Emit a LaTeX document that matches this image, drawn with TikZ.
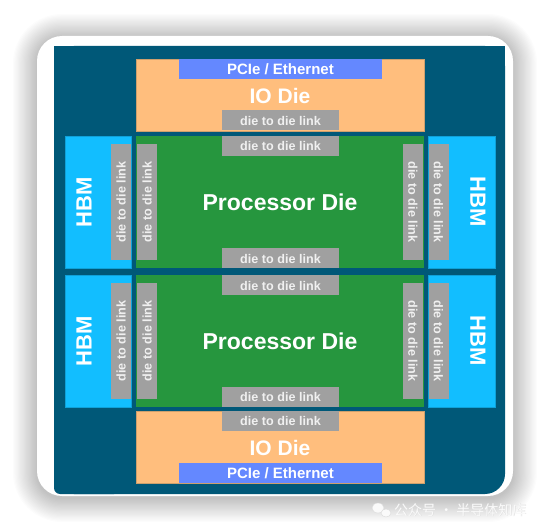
\documentclass[tikz,border=0pt]{standalone}
\usepackage{fontspec}
\setmainfont{Liberation Sans}
\newfontfamily\cjk{Noto Sans CJK SC}
\definecolor{panelblue}{RGB}{0,88,120}
\definecolor{iocol}{RGB}{255,190,125}
\definecolor{iodraw}{RGB}{205,160,110}
\definecolor{pciecol}{RGB}{100,136,255}
\definecolor{proccol}{RGB}{38,150,62}
\definecolor{hbmcol}{RGB}{18,190,255}
\definecolor{linkcol}{RGB}{160,160,160}
\definecolor{linktext}{RGB}{240,240,240}
\definecolor{wmark}{RGB}{250,250,250}
\definecolor{wmarkedge}{RGB}{218,218,218}
\tikzset{
  box/.style={inner sep=0pt, outer sep=0pt, anchor=north west},
  iobox/.style={box, fill=iocol, draw=iodraw, line width=0.6pt, minimum width=288pt, minimum height=72pt,
    text=white, font=\bfseries\fontsize{21}{21}\selectfont},
  pciebox/.style={box, fill=pciecol, minimum width=203pt, minimum height=20pt,
    text=white, font=\bfseries\fontsize{15}{15}\selectfont},
  procbox/.style={box, fill=proccol, minimum width=288pt, minimum height=132pt,
    text=white, font=\bfseries\fontsize{23}{23}\selectfont},
  hbmbox/.style={box, fill=hbmcol, draw=hbmcol!85!black, line width=0.4pt, minimum width=66pt, minimum height=132pt},
  hbmtext/.style={inner sep=0pt, text=white, font=\bfseries\fontsize{22}{22}\selectfont},
  linkbox/.style={inner sep=0pt, outer sep=0pt, fill=linkcol, minimum height=20pt,
    text=linktext, font=\bfseries\fontsize{12.6}{12.6}\selectfont},
  hlink/.style={linkbox, anchor=north west, minimum width=117pt},
  vlink/.style={linkbox, minimum width=116pt},
  shadowlayer/.style={fill=black, fill opacity=0.011},
  wmtext/.style={anchor=west, inner sep=0pt, text=wmark, font=\cjk\fontsize{14}{14}\selectfont},
}
\begin{document}
\begin{tikzpicture}[x=1pt,y=-1pt]
\useasboundingbox (0,0) rectangle (550,532);
\fill[white] (0,0) rectangle (550,532);
% soft shadow built from stacked translucent layers
\foreach \i in {1,...,20} {
  \pgfmathsetmacro{\d}{1.2*\i}
  \fill[shadowlayer, rounded corners={25pt+\d pt}] (37-\d,36-\d+2) rectangle (513+\d,496+\d+2);
}
% card
\fill[white, rounded corners=25pt] (37,36) rectangle (513,496);
% dark panel
\fill[panelblue, rounded corners=20pt] (54,46) rectangle (505,494);
\fill[panelblue] (54,46) rectangle (505,120);
\fill[panelblue, rounded corners=6pt] (54,300) rectangle (120,494);

% top IO die
\node[iobox] (ioT) at (136,59) {};
\node[text=white, font=\bfseries\fontsize{21}{21}\selectfont] (ioTt) at (280,96) {IO Die};
\node[pciebox] (pcieT) at (179,59) {PCIe / Ethernet};
\node[hlink] (lnkIOT) at (222,110.5) {die to die link};

% top processor
\node[procbox] (procT) at (136,136) {Processor Die};
\node[hlink] (lnkPT1) at (222,136) {die to die link};
\node[hlink] (lnkPT2) at (222,248.5) {die to die link};

% bottom processor
\node[procbox] (procB) at (136,275.5) {Processor Die};
\node[hlink] (lnkPB1) at (222,275.5) {die to die link};
\node[hlink] (lnkPB2) at (222,387) {die to die link};

% bottom IO die
\node[iobox] (ioB) at (136,411) {};
\node[text=white, font=\bfseries\fontsize{21}{21}\selectfont] (ioBt) at (280,448) {IO Die};
\node[hlink] (lnkIOB) at (222,411) {die to die link};
\node[pciebox] (pcieB) at (179,463) {PCIe / Ethernet};

% HBMs
\node[hbmbox] (hbmLT) at (65,136) {};
\node[hbmbox] (hbmLB) at (65,275.5) {};
\node[hbmbox, minimum width=67pt] (hbmRT) at (428,136) {};
\node[hbmbox, minimum width=67pt] (hbmRB) at (428,275.5) {};
\node[hbmtext, rotate=90] (hbmLTt) at (84,202) {HBM};
\node[hbmtext, rotate=90] (hbmLBt) at (84,341) {HBM};
\node[hbmtext, rotate=-90] (hbmRTt) at (478,202) {HBM};
\node[hbmtext, rotate=-90] (hbmRBt) at (478,341) {HBM};

% vertical links
\node[vlink, rotate=90] (vL1) at (121,202) {die to die link};
\node[vlink, rotate=90] (vL2) at (147,202) {die to die link};
\node[vlink, rotate=-90] (vR1) at (413,202) {die to die link};
\node[vlink, rotate=-90] (vR2) at (438.5,202) {die to die link};
\node[vlink, rotate=90] (vL3) at (121,341) {die to die link};
\node[vlink, rotate=90] (vL4) at (147,341) {die to die link};
\node[vlink, rotate=-90] (vR3) at (413,341) {die to die link};
\node[vlink, rotate=-90] (vR4) at (438.5,341) {die to die link};

% watermark
\fill[wmark, draw=wmarkedge, line width=0.4pt] (378,508) ellipse (6pt and 5pt);
\fill[wmark, draw=wmarkedge, line width=0.4pt] (386,513) ellipse (5pt and 4pt);
\node[wmtext, text=wmarkedge] (wmS) at (394.4,510.4) {公众号 · 半导体知库};
\node[wmtext] (wm) at (394,510) {公众号 · 半导体知库};
\end{tikzpicture}
\end{document}
